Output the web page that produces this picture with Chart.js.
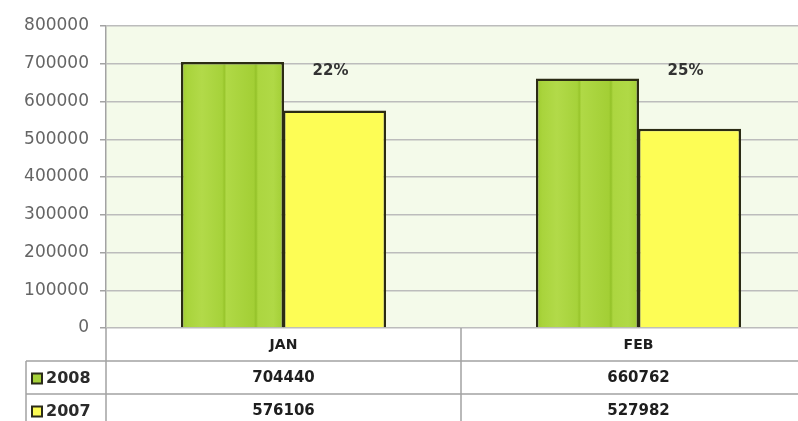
<!DOCTYPE html>
<html>
<head>
<meta charset="utf-8">
<script src="https://cdn.jsdelivr.net/npm/chart.js@4/dist/chart.umd.min.js"></script>
<style>
  html, body { margin: 0; padding: 0; background: #fff; overflow: hidden; }
  #wrap { position: relative; width: 818px; height: 421px; }
</style>
</head>
<body>
<div id="wrap"><canvas id="chart" width="818" height="421"></canvas></div>
<script>
const months = ['JAN', 'FEB']
const seriesNames = ['2008', '2007']
const sales2008 = [704440, 660762]
const sales2007 = [576106, 527982]
const growthLabels = ['22%', '25%']
const yTicks = [0, 100000, 200000, 300000, 400000, 500000, 600000, 700000, 800000]

const catPct = 0.575
const rowH = 33
const green = '#a6d23a'
const yellow = '#fdfd55'
const font = '"DejaVu Sans", sans-serif'

// vertical stripes on the 2008 bars
const stripedGreen = ctx => {
  const chart = ctx.chart
  const xs = chart.scales && chart.scales.x
  if (!xs || ctx.dataIndex === undefined) return green
  const barW = (xs.right - xs.left) / months.length * catPct / 2
  const left = xs.getPixelForValue(ctx.dataIndex) - barW
  if (!isFinite(barW) || !isFinite(left) || barW <= 0) return green
  const g = chart.ctx.createLinearGradient(left, 0, left + barW, 0)
  g.addColorStop(0, '#9fcb2f')
  g.addColorStop(0.06, '#a9d43c')
  g.addColorStop(0.2, '#b2da49')
  g.addColorStop(0.4, '#a6d23a')
  g.addColorStop(0.42, '#98c52b')
  g.addColorStop(0.44, '#b0d946')
  g.addColorStop(0.6, '#a8d33c')
  g.addColorStop(0.71, '#a3cf35')
  g.addColorStop(0.73, '#94c229')
  g.addColorStop(0.75, '#acd640')
  g.addColorStop(0.9, '#b0d946')
  g.addColorStop(1, '#a2ce34')
  return g
}

const plotBg = {
  id: 'plotBg',
  beforeDraw(chart) {
    const { ctx, chartArea: a } = chart
    ctx.save()
    ctx.fillStyle = '#f4faea'
    ctx.fillRect(a.left, a.top, a.right - a.left, a.bottom - a.top)
    ctx.restore()
  }
}

const extras = {
  id: 'extras',
  afterDraw(chart) {
    const { ctx, chartArea: a, scales: { x, y } } = chart
    const W = chart.width
    const H = chart.height
    const top = a.bottom
    const tableLeft = 26
    ctx.save()

    // growth labels
    const meta = chart.getDatasetMeta(1)
    ctx.font = 'bold 15px ' + font
    ctx.fillStyle = '#333'
    ctx.textAlign = 'center'
    ctx.textBaseline = 'middle'
    growthLabels.forEach((t, i) => {
      ctx.fillText(t, meta.data[i].x - 4, y.getPixelForValue(680000))
    })

    // table grid
    ctx.strokeStyle = '#a3a3a3'
    ctx.lineWidth = 1.5
    ctx.beginPath()
    ctx.moveTo(tableLeft, top + rowH); ctx.lineTo(W, top + rowH)
    ctx.moveTo(tableLeft, top + rowH * 2); ctx.lineTo(W, top + rowH * 2)
    ctx.moveTo(a.left, top); ctx.lineTo(a.left, H)
    ctx.moveTo(tableLeft, top + rowH); ctx.lineTo(tableLeft, H)
    for (let i = 0; i < months.length; i++) {
      const edge = x.getPixelForValue(i) + (a.right - a.left) / months.length / 2
      ctx.moveTo(edge, top); ctx.lineTo(edge, H)
    }
    ctx.stroke()

    // table text
    ctx.fillStyle = '#1e1e1e'
    ctx.font = 'bold 14px ' + font
    months.forEach((m, i) => ctx.fillText(m, x.getPixelForValue(i), top + rowH / 2 + 1))
    ctx.font = 'bold 15px ' + font
    const rows = [sales2008, sales2007]
    rows.forEach((vals, r) => {
      const cy = top + rowH * (r + 1.5) + 1
      vals.forEach((v, i) => ctx.fillText(String(v), x.getPixelForValue(i), cy))
    })

    // legend keys
    const keyColors = [green, yellow]
    ctx.textAlign = 'left'
    ctx.font = 'bold 16px ' + font
    seriesNames.forEach((s, r) => {
      const cy = top + rowH * (r + 1.5) + 1
      ctx.fillStyle = keyColors[r]
      ctx.fillRect(32, cy - 5, 10, 10)
      ctx.strokeStyle = '#2b2b1a'
      ctx.lineWidth = 2
      ctx.strokeRect(32, cy - 5, 10, 10)
      ctx.fillStyle = '#2a2a2a'
      ctx.fillText(s, 46, cy)
    })
    ctx.restore()
  }
}

new Chart(document.getElementById('chart'), {
  type: 'bar',
  data: {
    labels: months,
    datasets: [
      {
        label: seriesNames[0],
        data: sales2008,
        backgroundColor: stripedGreen,
        borderColor: '#2b2b14',
        borderWidth: 2.5,
        categoryPercentage: catPct,
        barPercentage: 1.01
      },
      {
        label: seriesNames[1],
        data: sales2007,
        backgroundColor: yellow,
        borderColor: '#2b2b14',
        borderWidth: 2.5,
        categoryPercentage: catPct,
        barPercentage: 1.01
      }
    ]
  },
  options: {
    responsive: false,
    animation: false,
    layout: { padding: { top: 26, bottom: 93, left: 0, right: 2 } },
    plugins: { legend: { display: false }, tooltip: { enabled: false } },
    scales: {
      x: { display: false },
      y: {
        min: 0,
        max: 800000,
        afterFit: s => { s.width = 106 },
        afterBuildTicks: s => { s.ticks = yTicks.map(v => ({ value: v })) },
        border: { display: true, color: '#a3a3a3', width: 1.5 },
        grid: { color: '#bcbcbc', lineWidth: 1.5, tickLength: 6, tickColor: '#a3a3a3' },
        ticks: {
          padding: 11,
          color: '#656565',
          font: { family: font, size: 17 },
          callback: v => String(v)
        }
      }
    }
  },
  plugins: [plotBg, extras]
})
</script>
</body>
</html>
